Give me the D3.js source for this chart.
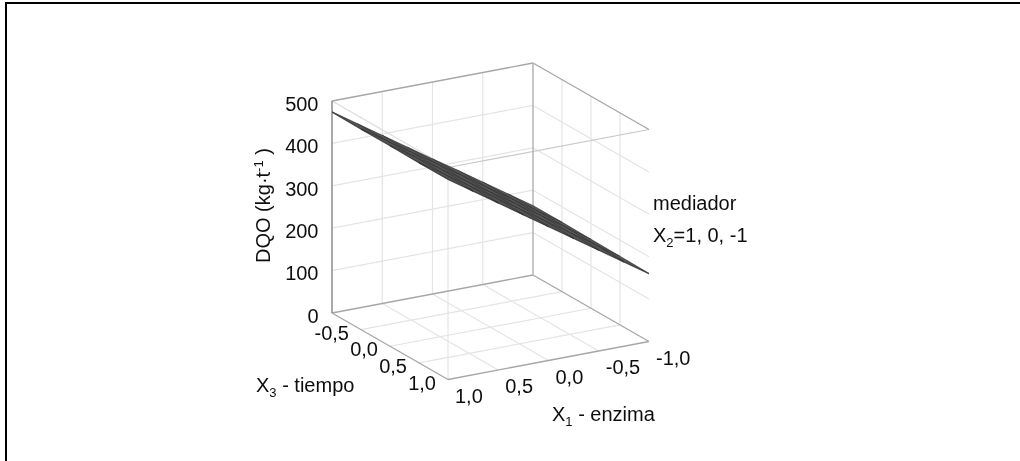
<!DOCTYPE html>
<html>
<head>
<meta charset="utf-8">
<script src="https://cdnjs.cloudflare.com/ajax/libs/d3/7.8.5/d3.min.js"></script>
<style>
html, body { margin: 0; padding: 0; background: #fff; }
svg { display: block; }
text { font-family: "Liberation Sans", Arial, sans-serif; font-size: 20px; fill: #111; }
</style>
</head>
<body>
<svg id="chart" width="1020" height="461"></svg>
<script>
var x1Grid = [-1, -0.75, -0.5, -0.25, 0, 0.25, 0.5, 0.75, 1],
    x3Grid = [-1, -0.5, 0, 0.5, 1];

// DQO: one row per x1Grid value, one column per x3Grid value
var dqoX2High = [
    [164, 164, 163, 162, 161],
    [203, 202, 202, 201, 200],
    [242, 241, 241, 240, 239],
    [281, 280, 280, 279, 278],
    [319, 319, 318, 318, 317],
    [358, 358, 357, 357, 356],
    [397, 396, 396, 395, 395],
    [436, 435, 435, 434, 434],
    [475, 474, 474, 473, 473]
];
var dqoX2Mid = [
    [163, 163, 162, 161, 160],
    [202, 201, 201, 200, 199],
    [241, 240, 240, 239, 238],
    [280, 279, 279, 278, 277],
    [318, 318, 317, 317, 316],
    [357, 357, 356, 356, 355],
    [396, 395, 395, 394, 394],
    [435, 434, 434, 433, 433],
    [474, 473, 473, 472, 472]
];
var dqoX2Low = [
    [162, 162, 161, 160, 159],
    [201, 200, 200, 199, 198],
    [240, 239, 239, 238, 237],
    [279, 278, 278, 277, 276],
    [317, 317, 316, 316, 315],
    [356, 356, 355, 355, 354],
    [395, 394, 394, 393, 393],
    [434, 433, 433, 432, 432],
    [473, 472, 472, 471, 471]
];

var x1Ticks = [-1, -0.5, 0, 0.5, 1],
    x1TickLabels = ["-1,0", "-0,5", "0,0", "0,5", "1,0"],
    x3Ticks = [-0.5, 0, 0.5, 1],
    x3TickLabels = ["-0,5", "0,0", "0,5", "1,0"],
    zTicks = [0, 100, 200, 300, 400, 500];

var svg = d3.select("#chart");

// slight softening, the reference is a scanned figure
svg.append("defs").append("filter")
    .attr("id", "soft")
    .append("feGaussianBlur")
    .attr("stdDeviation", 0.45);

var g = svg.append("g").attr("filter", "url(#soft)");

// frame: top and left only
g.append("path")
    .attr("d", "M6,461V3H1020")
    .attr("fill", "none")
    .attr("stroke", "#000")
    .attr("stroke-width", 2);

// box projection: each axis moves the point on screen along its own direction
var x1ScreenX = d3.scaleLinear().domain([-1, 1]).range([533, 332]),
    x1ScreenY = d3.scaleLinear().domain([-1, 1]).range([275, 313]),
    x3ScreenX = d3.scaleLinear().domain([-1, 1]).range([0, 116]),
    x3ScreenY = d3.scaleLinear().domain([-1, 1]).range([0, 66.5]),
    zScreen = d3.scaleLinear().domain([0, 500]).range([0, -212]);

function project(x1, x3, z) {
    return [x1ScreenX(x1) + x3ScreenX(x3), x1ScreenY(x1) + x3ScreenY(x3) + zScreen(z)];
}

function seg(a, b, color, w) {
    g.append("line")
        .attr("x1", a[0]).attr("y1", a[1])
        .attr("x2", b[0]).attr("y2", b[1])
        .attr("stroke", color)
        .attr("stroke-width", w);
}

var gridColor = "#e4e4e4",
    edgeColor = "#a6a6a6";

// wall and floor grid
zTicks.slice(1, -1).forEach(function(z) {
    seg(project(1, -1, z), project(-1, -1, z), gridColor, 1.2);
    seg(project(-1, -1, z), project(-1, 1, z), gridColor, 1.2);
});
x1Ticks.slice(1, -1).forEach(function(x) {
    seg(project(x, -1, 0), project(x, -1, 500), gridColor, 1.2);
    seg(project(x, -1, 0), project(x, 1, 0), gridColor, 1.2);
});
x3Ticks.slice(0, -1).forEach(function(x) {
    seg(project(-1, x, 0), project(-1, x, 500), gridColor, 1.2);
    seg(project(-1, x, 0), project(1, x, 0), gridColor, 1.2);
});

// box edges
seg(project(1, 1, 0), project(1, 1, 500), gridColor, 1.2);
seg(project(1, -1, 500), project(1, 1, 500), "#dcdcdc", 1.2);
seg(project(1, 1, 500), project(-1, 1, 500), "#c8c8c8", 1.2);
seg(project(1, -1, 500), project(-1, -1, 500), edgeColor, 1.3);
seg(project(-1, -1, 500), project(-1, 1, 500), edgeColor, 1.3);
seg(project(1, -1, 0), project(-1, -1, 0), edgeColor, 1.3);
seg(project(-1, -1, 0), project(-1, 1, 0), edgeColor, 1.3);
seg(project(1, -1, 0), project(1, 1, 0), edgeColor, 1.3);
seg(project(1, 1, 0), project(-1, 1, 0), edgeColor, 1.3);
seg(project(-1, -1, 0), project(-1, -1, 500), "#b4b4b4", 1.5);
seg(project(1, -1, 0), project(1, -1, 500), "#8c8c8c", 1.5);

// surfaces, one mesh per mediador level
[dqoX2Low, dqoX2Mid, dqoX2High].forEach(function(table) {
    var cells = [];
    d3.range(x1Grid.length - 1).forEach(function(i) {
        d3.range(x3Grid.length - 1).forEach(function(j) {
            cells.push([
                project(x1Grid[i], x3Grid[j], table[i][j]),
                project(x1Grid[i + 1], x3Grid[j], table[i + 1][j]),
                project(x1Grid[i + 1], x3Grid[j + 1], table[i + 1][j + 1]),
                project(x1Grid[i], x3Grid[j + 1], table[i][j + 1])
            ]);
        });
    });
    g.append("g").selectAll("path")
        .data(cells)
        .enter().append("path")
        .attr("d", function(d) { return "M" + d.join("L") + "Z"; })
        .attr("fill", "#555")
        .attr("stroke", "#2b2b2b")
        .attr("stroke-width", 0.35);
});

// tick labels
var zAxis = d3.axisLeft(d3.scaleLinear().domain([0, 500]).range([313, 101]))
    .tickValues(zTicks)
    .tickSize(0)
    .tickPadding(0);
var zAxisG = g.append("g").attr("transform", "translate(318.5,2)").call(zAxis);
zAxisG.select(".domain").remove();
zAxisG.selectAll("text").attr("dy", "0.36em").style("font-size", "20px").style("font-family", '"Liberation Sans"').style("fill", "#111");

g.selectAll(".x1tick")
    .data(x1Ticks)
    .enter().append("text")
    .attr("class", "x1tick")
    .attr("x", function(d) { return project(d, 1, 0)[0] + 7; })
    .attr("y", function(d) { return project(d, 1, 0)[1] + 23; })
    .text(function(d, i) { return x1TickLabels[i]; });

g.selectAll(".x3tick")
    .data(x3Ticks)
    .enter().append("text")
    .attr("class", "x3tick")
    .attr("text-anchor", "end")
    .attr("x", function(d) { return project(1, d, 0)[0] - 12; })
    .attr("y", function(d) { return project(1, d, 0)[1] + 10; })
    .text(function(d, i) { return x3TickLabels[i]; });

// titles
function subLabel(x, y, a, b, c) {
    var t = g.append("text").attr("x", x).attr("y", y);
    t.append("tspan").text(a);
    t.append("tspan").attr("dy", 5).style("font-size", "13px").text(b);
    t.append("tspan").attr("dy", -5).text(c);
    return t;
}

subLabel(256, 392, "X", "3", " - tiempo");
subLabel(552, 421, "X", "1", " - enzima");
subLabel(653, 242, "X", "2", "=1, 0, -1");
g.append("text").attr("x", 653).attr("y", 210).text("mediador");

var yTitle = g.append("text")
    .attr("transform", "translate(270,263) rotate(-90)");
yTitle.append("tspan").text("DQO (kg·t");
yTitle.append("tspan").attr("dy", -7).style("font-size", "13px").text("-1");
yTitle.append("tspan").attr("dy", 7).text(" )");
</script>
</body>
</html>
